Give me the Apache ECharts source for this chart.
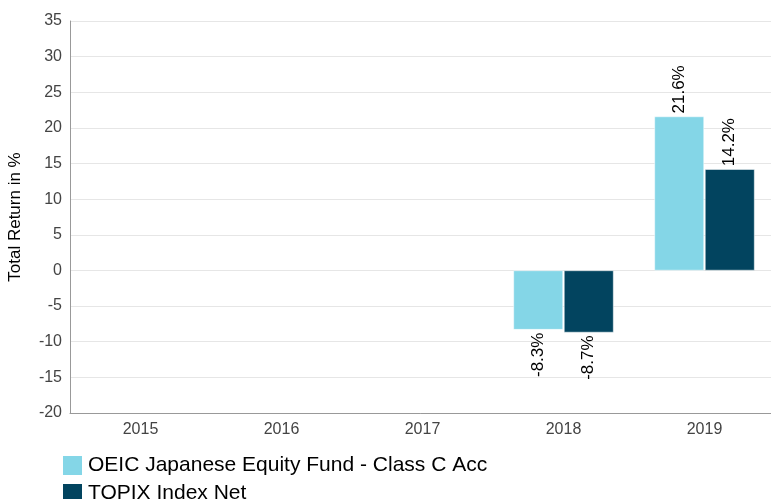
<!DOCTYPE html>
<html>
<head>
<meta charset="utf-8">
<script src="https://cdn.jsdelivr.net/npm/echarts@6/dist/echarts.min.js"></script>
<style>
  html, body { margin: 0; padding: 0; background: #fff; }
  #chart { width: 771px; height: 499px; }
</style>
</head>
<body>
<div id="chart"></div>
<script>
var years = ['2015', '2016', '2017', '2018', '2019'];
var fundReturns = [null, null, null, -8.3, 21.6];
var indexReturns = [null, null, null, -8.7, 14.2];
var fundName = 'OEIC Japanese Equity Fund - Class C Acc';
var indexName = 'TOPIX Index Net';

function withLabels(values) {
	return values.map(function(v) {
		if (v == null) return '-';
		var neg = v < 0;
		return {
			value: v,
			label: {
				show: true,
				position: neg ? 'bottom' : 'top',
				rotate: 90,
				align: neg ? 'right' : 'left',
				verticalAlign: 'middle',
				distance: 3,
				color: '#000',
				fontSize: 17,
				formatter: function(p) { return p.value.toFixed(1) + '%'; }
			}
		};
	});
}

var chart = echarts.init(document.getElementById('chart'));
chart.setOption({
	animation: false,
	textStyle: { fontFamily: 'Liberation Sans, Arial, sans-serif' },
	grid: { left: 70, right: -4, top: 21, bottom: 86, containLabel: false, outerBoundsMode: 'none' },
	legend: {
		orient: 'vertical',
		left: 61,
		top: 454,
		height: 120,
		padding: 0,
		itemWidth: 21,
		itemHeight: 21,
		itemGap: 5,
		icon: 'rect',
		textStyle: { fontSize: 21, lineHeight: 21, color: '#000' },
		data: [fundName, indexName]
	},
	xAxis: {
		type: 'category',
		data: years,
		axisLine: { onZero: false, lineStyle: { color: '#999' } },
		axisTick: { show: false },
		axisLabel: { color: '#444', fontSize: 16, margin: 9 }
	},
	yAxis: {
		type: 'value',
		min: -20,
		max: 35,
		interval: 5,
		name: 'Total Return in %',
		nameLocation: 'middle',
		nameGap: 46,
		nameTextStyle: { color: '#000', fontSize: 17 },
		axisLine: { show: true, lineStyle: { color: '#999' } },
		axisTick: { show: false },
		axisLabel: { color: '#444', fontSize: 16, margin: 8 },
		splitLine: { lineStyle: { color: '#e6e6e6' } }
	},
	series: [{
		name: fundName,
		type: 'bar',
		data: withLabels(fundReturns),
		barGap: '2%',
		barCategoryGap: '29%',
		itemStyle: { color: '#84D6E7', borderColor: '#fff', borderWidth: 0.5 }
	}, {
		name: indexName,
		type: 'bar',
		data: withLabels(indexReturns),
		itemStyle: { color: '#02445F', borderColor: '#fff', borderWidth: 0.5 }
	}]
});
</script>
</body>
</html>
